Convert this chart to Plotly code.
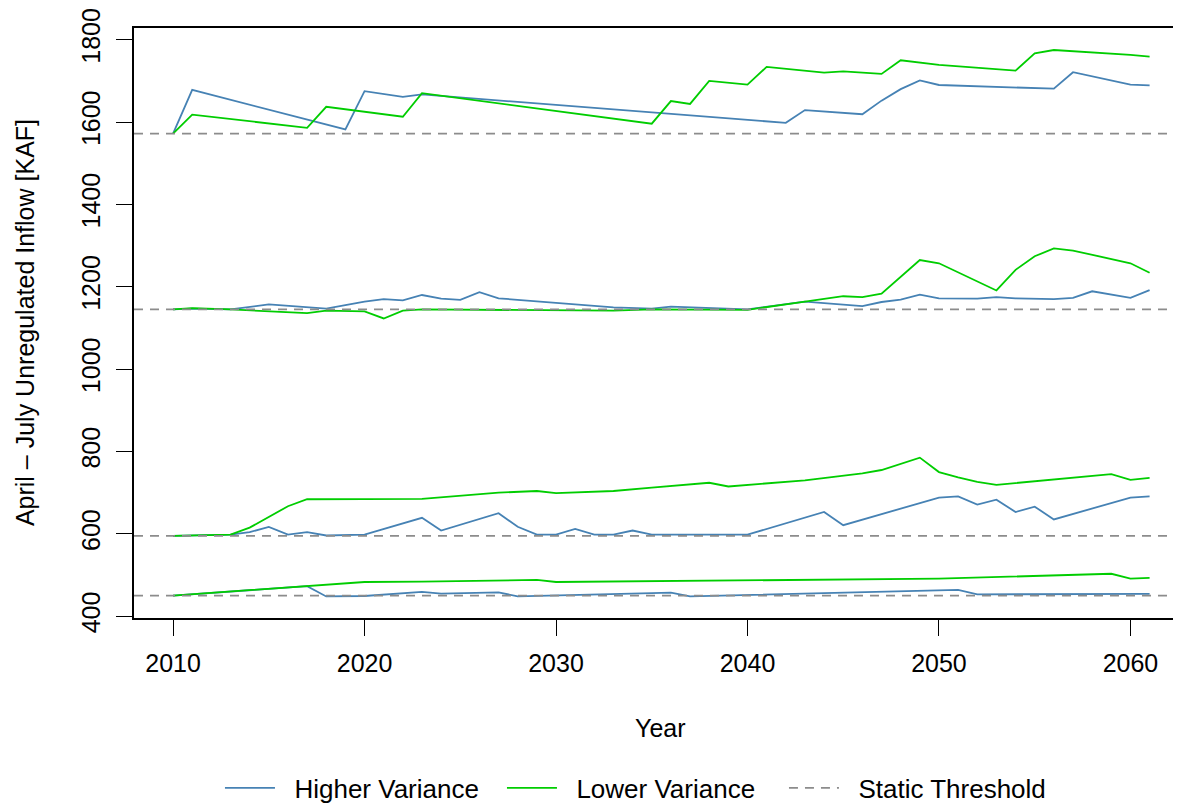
import plotly.graph_objects as go

# Datos
umbrales = [1572, 1145, 595, 450]

hv_top_years = [2010, 2011, 2019, 2020, 2022, 2023, 2042, 2043, 2046, 2047, 2048, 2049, 2050, 2056, 2057, 2060, 2061]
hv_top = [1572, 1678, 1582, 1675, 1661, 1667, 1598, 1629, 1619, 1652, 1680, 1701, 1690, 1681, 1721, 1691, 1689]

lv_top_years = [2010, 2011, 2017, 2018, 2022, 2023, 2035, 2036, 2037, 2038, 2040, 2041, 2044, 2045, 2047, 2048, 2050, 2054, 2055, 2056, 2060, 2061]
lv_top = [1572, 1618, 1586, 1637, 1613, 1670, 1596, 1651, 1644, 1700, 1691, 1734, 1720, 1723, 1717, 1750, 1739, 1725, 1767, 1775, 1763, 1759]

hv_mid_years = [2010, 2011, 2013, 2015, 2018, 2020, 2021, 2022, 2023, 2024, 2025, 2026, 2027, 2033, 2035, 2036, 2040, 2043, 2046, 2047, 2048, 2049, 2050, 2052, 2053, 2054, 2056, 2057, 2058, 2060, 2061]
hv_mid = [1145, 1147, 1145, 1157, 1147, 1164, 1170, 1167, 1180, 1171, 1168, 1187, 1172, 1150, 1147, 1152, 1145, 1164, 1153, 1163, 1169, 1181, 1172, 1171, 1175, 1172, 1170, 1173, 1189, 1173, 1192]

lv_mid_years = [2010, 2011, 2013, 2017, 2018, 2020, 2021, 2022, 2023, 2033, 2035, 2040, 2043, 2045, 2046, 2047, 2049, 2050, 2053, 2054, 2055, 2056, 2057, 2060, 2061]
lv_mid = [1145, 1148, 1145, 1136, 1142, 1140, 1123, 1142, 1145, 1142, 1145, 1144, 1164, 1177, 1175, 1183, 1265, 1257, 1191, 1241, 1274, 1293, 1288, 1257, 1234]

hv_low_years = [2010, 2013, 2014, 2015, 2016, 2017, 2018, 2020, 2023, 2024, 2027, 2028, 2029, 2030, 2031, 2032, 2033, 2034, 2035, 2040, 2044, 2045, 2050, 2051, 2052, 2053, 2054, 2055, 2056, 2060, 2061]
hv_low = [595, 598, 604, 617, 598, 604, 596, 598, 639, 608, 650, 617, 598, 598, 612, 598, 598, 608, 598, 598, 653, 621, 688, 691, 671, 683, 653, 666, 635, 688, 691]

lv_low_years = [2010, 2013, 2014, 2015, 2016, 2017, 2020, 2021, 2023, 2027, 2029, 2030, 2033, 2035, 2038, 2039, 2043, 2046, 2047, 2049, 2050, 2051, 2052, 2053, 2059, 2060, 2061]
lv_low = [595, 598, 615, 641, 667, 684, 685, 684, 685, 700, 704, 699, 704, 712, 724, 715, 730, 747, 755, 785, 750, 737, 726, 719, 745, 731, 736]

hv_bot_years = [2010, 2017, 2018, 2020, 2023, 2024, 2027, 2028, 2035, 2036, 2037, 2051, 2052, 2061]
hv_bot = [450, 473, 448, 449, 459, 455, 458, 448, 456, 457, 448, 464, 453, 454]

lv_bot_years = [2010, 2017, 2020, 2023, 2029, 2030, 2035, 2050, 2059, 2060, 2061]
lv_bot = [450, 474, 483, 484, 488, 483, 485, 491, 503, 491, 493]

x_ticks = [2010, 2020, 2030, 2040, 2050, 2060]
y_ticks = [400, 600, 800, 1000, 1200, 1400, 1600, 1800]

AZUL = "#4682B4"
VERDE = "#00CD00"
GRIS = "#8C8C8C"
FUENTE = "Liberation Sans, Arial, sans-serif"
ESP = "\u00a0\u00a0"  # separación entre muestra y texto en la leyenda

fig = go.Figure()

series_hv = [(hv_top_years, hv_top), (hv_mid_years, hv_mid), (hv_low_years, hv_low), (hv_bot_years, hv_bot)]
series_lv = [(lv_top_years, lv_top), (lv_mid_years, lv_mid), (lv_low_years, lv_low), (lv_bot_years, lv_bot)]

for i, (xs, ys) in enumerate(series_hv):
    fig.add_trace(go.Scatter(x=xs, y=ys, mode="lines", name=ESP + "Higher Variance",
                             legendgroup="hv", showlegend=(i == 0),
                             line=dict(color=AZUL, width=1.8)))

for i, (xs, ys) in enumerate(series_lv):
    fig.add_trace(go.Scatter(x=xs, y=ys, mode="lines", name=ESP + "Lower Variance",
                             legendgroup="lv", showlegend=(i == 0),
                             line=dict(color=VERDE, width=1.8)))

# entrada de leyenda para los umbrales
fig.add_trace(go.Scatter(x=[None], y=[None], mode="lines", name=ESP + "Static Threshold",
                         line=dict(color=GRIS, width=1.8, dash="9px,7px")))

for u in umbrales:
    fig.add_hline(y=u, line=dict(color=GRIS, width=1.8, dash="9px,7px"))

fig.update_xaxes(
    range=[2007.96, 2062.64], tickvals=x_ticks, ticks="outside", ticklen=16,
    tickwidth=1.2, tickcolor="black", showline=True, linecolor="black", linewidth=1.5,
    mirror=True, showgrid=False, zeroline=False, ticklabelstandoff=6,
    tickfont=dict(size=25, color="black", family=FUENTE),
)
fig.update_yaxes(
    range=[395.6, 1828.4], tickvals=y_ticks, ticks="outside", ticklen=16,
    tickwidth=1.2, tickcolor="black", showline=True, linecolor="black", linewidth=1.5,
    showgrid=False, zeroline=False, tickangle=-90, ticklabelstandoff=6,
    tickfont=dict(size=25, color="black", family=FUENTE),
)

fig.add_annotation(text="April \u2013 July Unregulated Inflow [KAF]", xref="paper", yref="paper",
                   x=-0.104, y=0.5, xanchor="center", yanchor="middle", textangle=-90,
                   showarrow=False, font=dict(size=25, color="black", family=FUENTE))
fig.add_annotation(text="Year", xref="paper", yref="paper", x=0.503, y=-0.1864,
                   xanchor="center", yanchor="middle",
                   showarrow=False, font=dict(size=25, color="black", family=FUENTE))

# la página deja 8 px de margen: la figura ocupa 1173x798
fig.update_layout(
    width=1173, height=798,
    margin=dict(l=126, r=0, t=20, b=188, autoexpand=False),
    paper_bgcolor="white", plot_bgcolor="white",
    font=dict(family=FUENTE, size=25, color="black"),
    legend=dict(orientation="h", x=0.0821, xanchor="left", y=-0.288, yanchor="middle",
                entrywidth=217, entrywidthmode="pixels", itemwidth=50,
                font=dict(size=26, color="black", family=FUENTE), bgcolor="rgba(0,0,0,0)"),
)

fig.write_html("out.html")
